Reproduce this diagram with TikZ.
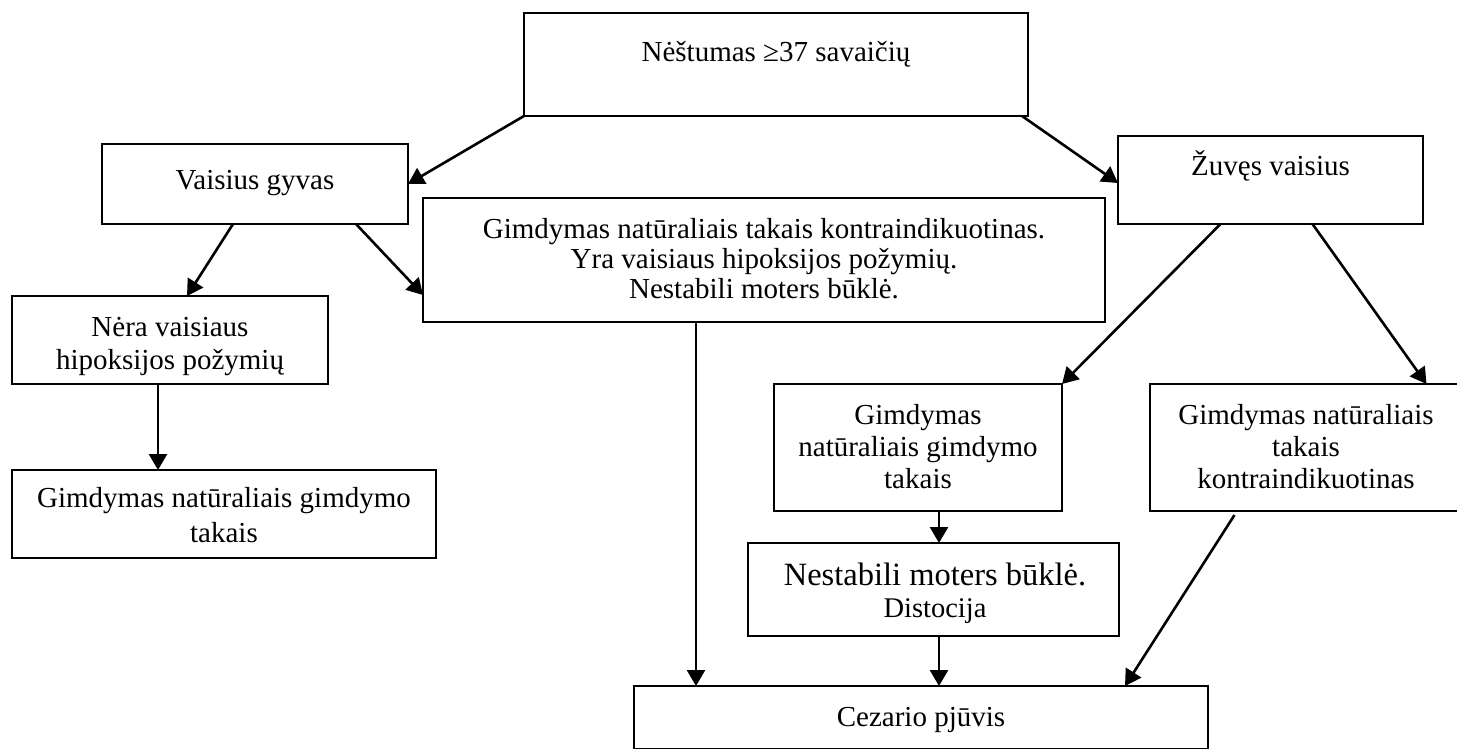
\documentclass[tikz,border=0pt]{standalone}
\usepackage{fontspec}
\setmainfont{Liberation Serif}
\usetikzlibrary{arrows.meta}
\begin{document}
\begin{tikzpicture}[x=1pt,y=-1pt,
  box/.style={draw, line width=2.3pt, inner sep=0pt, outer sep=0pt},
  txt/.style={inner sep=0pt, anchor=base, align=center},
  arr/.style={-{Triangle[length=16pt,width=18pt]}, line width=2.6pt}]
\useasboundingbox (0,0) rectangle (1457,748);
\fill[white] (0,0) rectangle (1457,748);
\clip (0,0) rectangle (1457,748);
% boxes
\node[box, minimum width=504pt, minimum height=103pt] (A) at (776,64.5) {};
\node[box, minimum width=306pt, minimum height=80pt] (B) at (255,184) {};
\node[box, minimum width=305pt, minimum height=88pt] (C) at (1270.5,180) {};
\node[box, minimum width=682pt, minimum height=124pt] (D) at (764,260) {};
\node[box, minimum width=316pt, minimum height=88pt] (I) at (170,340) {};
\node[box, minimum width=424pt, minimum height=88pt] (J) at (224,514) {};
\node[box, minimum width=288pt, minimum height=127pt] (E) at (918,447.5) {};
\node[box, minimum width=309pt, minimum height=127pt] (F) at (1304.5,447.5) {};
\node[box, minimum width=371pt, minimum height=93pt] (G) at (933.5,589.5) {};
\node[box, minimum width=574pt, minimum height=63pt] (H) at (921,717.5) {};
% texts
\node[txt, font=\fontsize{29}{33}\selectfont] (At) at (776,61) {Nėštumas ≥37 savaičių};
\node[txt, font=\fontsize{29}{33}\selectfont] (Bt) at (255,189) {Vaisius gyvas};
\node[txt, font=\fontsize{29}{33}\selectfont] (Ct) at (1270.5,175) {Žuvęs vaisius};
\node[txt, font=\fontsize{29}{30}\selectfont] (Dt) at (764,238) {\begin{tabular}[t]{@{}c@{}}Gimdymas natūraliais takais kontraindikuotinas.\\Yra vaisiaus hipoksijos požymių.\\Nestabili moters būklė.\end{tabular}};
\node[txt, font=\fontsize{29}{33}\selectfont] (It) at (170,336) {\begin{tabular}[t]{@{}c@{}}Nėra vaisiaus\\hipoksijos požymių\end{tabular}};
\node[txt, font=\fontsize{29}{35}\selectfont] (Jt) at (224,507) {\begin{tabular}[t]{@{}c@{}}Gimdymas natūraliais gimdymo\\takais\end{tabular}};
\node[txt, font=\fontsize{29}{32}\selectfont] (Et) at (918,424) {\begin{tabular}[t]{@{}c@{}}Gimdymas\\natūraliais gimdymo\\takais\end{tabular}};
\node[txt, font=\fontsize{29}{32}\selectfont] (Ft) at (1306,424) {\begin{tabular}[t]{@{}c@{}}Gimdymas natūraliais\\takais\\kontraindikuotinas\end{tabular}};
\node[txt, font=\fontsize{32.5}{32}\selectfont] (Gt) at (935,585) {\begin{tabular}[t]{@{}c@{}}Nestabili moters būklė.\\{\fontsize{28.5}{32}\selectfont Distocija}\end{tabular}};
\node[txt, font=\fontsize{29}{33}\selectfont] (Ht) at (921,726) {Cezario pjūvis};
% helper coordinates
\coordinate (i1) at ([xshift=-12pt]I.south);
\coordinate (d1) at ([xshift=-68pt]D.south);
\coordinate (e1) at ([xshift=21pt]E.south);
\coordinate (g1) at ([xshift=5.5pt]G.south);
\coordinate (f1) at ([xshift=-70pt,yshift=-4pt]F.south);
% connectors
\draw[arr] (A.south west) -- (B.east);
\draw[arr] ([xshift=-6pt]A.south east) -- ([yshift=-3pt]C.west);
\draw[arr] ([xshift=-22pt]B.south) -- ([xshift=17pt]I.north);
\draw[arr] ([xshift=101pt]B.south) -- ([yshift=-35pt]D.west);
\draw[arr] ([xshift=-50pt]C.south) -- (E.north east);
\draw[arr] ([xshift=42pt]C.south) -- ([xshift=122pt]F.north);
\draw[arr] (i1) -- (i1 |- J.north);
\draw[arr] (d1) -- (d1 |- H.north);
\draw[arr] (e1) -- (e1 |- G.north);
\draw[arr] (g1) -- (g1 |- H.north);
\draw[arr] (f1) -- ([xshift=204pt]H.north);
\end{tikzpicture}
\end{document}
